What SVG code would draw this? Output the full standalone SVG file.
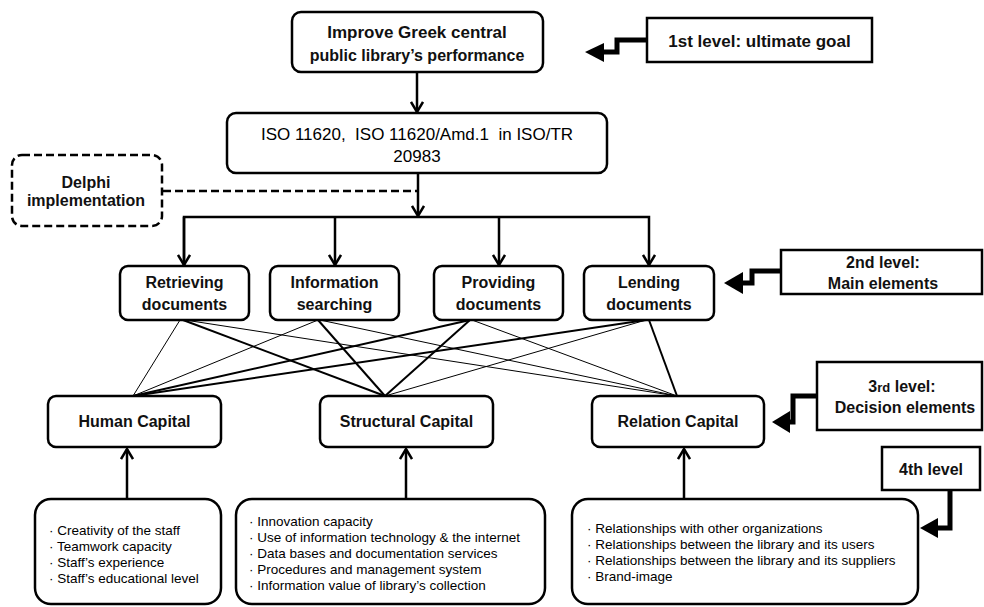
<svg xmlns="http://www.w3.org/2000/svg" width="984" height="607" viewBox="0 0 984 607">
<style>
.box{fill:#fff;stroke:#000;stroke-width:2.5}
.lbl{fill:#fff;stroke:#000;stroke-width:2.5}
.dash{fill:#fff;stroke:#000;stroke-width:2.5;stroke-dasharray:8 4}
.t{font-family:"Liberation Sans",Arial,sans-serif;font-size:16px;font-weight:bold;fill:#111;text-anchor:middle}
.r{font-family:"Liberation Sans",Arial,sans-serif;font-size:17px;fill:#000;text-anchor:middle;white-space:pre}
.b{font-family:"Liberation Sans",Arial,sans-serif;font-size:13.5px;fill:#000}
.arr{fill:none;stroke:#000;stroke-width:2.5;marker-end:url(#vee)}
.thick{stroke:#000;stroke-width:2;fill:none}
.thin{stroke:#000;stroke-width:1;fill:none}
.lvl{fill:none;stroke:#000;stroke-width:5}
</style>
<defs>
<marker id="vee" viewBox="0 0 12 14" refX="11" refY="7" markerWidth="12" markerHeight="14" markerUnits="userSpaceOnUse" orient="auto">
<path d="M1,1 L11,7 L1,13" fill="none" stroke="#000" stroke-width="2.5"/>
</marker>
</defs>

<g id="connectors">
<line class="arr" x1="417" y1="73" x2="417" y2="112"/>
<line class="arr" x1="418" y1="174" x2="418" y2="216"/>
<path d="M163,191 H418" fill="none" stroke="#000" stroke-width="2.5" stroke-dasharray="8 4"/>
<path d="M184,265 V217 H649 V265" fill="none" stroke="#000" stroke-width="2.5" marker-end="url(#vee)"/>
<line class="arr" x1="184" y1="217" x2="184" y2="265"/>
<line class="arr" x1="335" y1="217" x2="335" y2="265"/>
<line class="arr" x1="499" y1="217" x2="499" y2="265"/>
<!-- cross links -->
<line class="thin" x1="180" y1="320" x2="133" y2="396"/>
<line class="thick" x1="183" y1="320" x2="385" y2="396"/>
<line class="thin" x1="185" y1="320" x2="677" y2="396"/>
<line class="thin" x1="318" y1="320" x2="133" y2="396"/>
<line class="thick" x1="318" y1="320" x2="385" y2="396"/>
<line class="thin" x1="320" y1="320" x2="677" y2="396"/>
<line class="thick" x1="470" y1="320" x2="133" y2="396"/>
<line class="thick" x1="470" y1="320" x2="385" y2="396"/>
<line class="thin" x1="472" y1="320" x2="677" y2="396"/>
<line class="thick" x1="646" y1="320" x2="133" y2="396"/>
<line class="thin" x1="646" y1="320" x2="385" y2="396"/>
<line class="thick" x1="649" y1="320" x2="677" y2="396" stroke-width="1.6"/>
<!-- up arrows -->
<line class="arr" x1="127" y1="499" x2="127" y2="449"/>
<line class="arr" x1="406" y1="499" x2="406" y2="449"/>
<line class="arr" x1="684" y1="499" x2="684" y2="449"/>
<!-- level pointers -->
<path class="lvl" d="M647,40 H617 V52 H600"/>
<polygon points="585,52 604,43 604,62" fill="#000"/>
<path class="lvl" d="M781,271 H752 V283 H738"/>
<polygon points="724,283 743,272 743,294" fill="#000"/>
<path class="lvl" d="M817,396 H793 V422 H786"/>
<polygon points="772,422 790,411 790,433" fill="#000"/>
<path class="lvl" d="M950,490 V528 H935"/>
<polygon points="920,528 938,518 938,538" fill="#000"/>
</g>

<g id="goal">
<rect class="box" x="292" y="12" width="251" height="60" rx="9"/>
<text class="t" x="417" y="38" style="font-size:17px">Improve Greek central</text>
<text class="t" x="417" y="61">public library’s performance</text>
</g>

<g id="iso">
<rect class="box" x="227" y="113" width="380" height="60" rx="9"/>
<text class="r" x="417" y="140">ISO 11620,  ISO 11620/Amd.1  in ISO/TR</text>
<text class="r" x="417" y="162">20983</text>
</g>

<g id="delphi">
<rect class="dash" x="12" y="155" width="150" height="71" rx="10"/>
<text class="t" x="86" y="188">Delphi</text>
<text class="t" x="86" y="206">implementation</text>
</g>

<g id="retrieving">
<rect class="box" x="120" y="266" width="129" height="54" rx="8"/>
<text class="t" x="184.5" y="288">Retrieving</text>
<text class="t" x="184.5" y="310">documents</text>
</g>
<g id="information">
<rect class="box" x="270" y="266" width="129" height="54" rx="8"/>
<text class="t" x="334.5" y="288">Information</text>
<text class="t" x="334.5" y="310">searching</text>
</g>
<g id="providing">
<rect class="box" x="434" y="266" width="129" height="54" rx="8"/>
<text class="t" x="498.5" y="288">Providing</text>
<text class="t" x="498.5" y="310">documents</text>
</g>
<g id="lending">
<rect class="box" x="584" y="266" width="130" height="54" rx="8"/>
<text class="t" x="649" y="288">Lending</text>
<text class="t" x="649" y="310">documents</text>
</g>

<g id="human">
<rect class="box" x="48" y="396" width="173" height="51" rx="8"/>
<text class="t" x="134.5" y="427">Human Capital</text>
</g>
<g id="structural">
<rect class="box" x="320" y="396" width="173" height="51" rx="8"/>
<text class="t" x="406.5" y="427">Structural Capital</text>
</g>
<g id="relation">
<rect class="box" x="592" y="396" width="172" height="51" rx="8"/>
<text class="t" x="678" y="427">Relation Capital</text>
</g>

<g id="human-details">
<rect class="box" x="35" y="499" width="186" height="105" rx="16"/>
<text class="b" x="49" y="535">· Creativity of the staff</text>
<text class="b" x="49" y="551">· Teamwork capacity</text>
<text class="b" x="49" y="567">· Staff’s experience</text>
<text class="b" x="49" y="583">· Staff’s educational level</text>
</g>
<g id="structural-details">
<rect class="box" x="236" y="499" width="309" height="105" rx="16"/>
<text class="b" x="249" y="526">· Innovation capacity</text>
<text class="b" x="249" y="542">· Use of information technology &amp; the internet</text>
<text class="b" x="249" y="558">· Data bases and documentation services</text>
<text class="b" x="249" y="574">· Procedures and management system</text>
<text class="b" x="249" y="590">· Information value of library’s collection</text>
</g>
<g id="relation-details">
<rect class="box" x="572" y="499" width="346" height="105" rx="16"/>
<text class="b" x="587" y="533">· Relationships with other organizations</text>
<text class="b" x="587" y="549">· Relationships between the library and its users</text>
<text class="b" x="587" y="565">· Relationships between the library and its suppliers</text>
<text class="b" x="587" y="581">· Brand-image</text>
</g>

<g id="level1">
<rect class="lbl" x="647" y="18" width="225" height="44"/>
<text class="t" x="759.5" y="47" style="font-size:17px">1st level: ultimate goal</text>
</g>
<g id="level2">
<rect class="lbl" x="781" y="250" width="201" height="44"/>
<text class="t" x="883" y="268">2nd level:</text>
<text class="t" x="883" y="289">Main elements</text>
</g>
<g id="level3">
<rect class="lbl" x="817" y="362" width="165" height="68"/>
<text class="t" x="902" y="392">3<tspan font-size="13">rd</tspan> level:</text>
<text class="t" x="905" y="413">Decision elements</text>
</g>
<g id="level4">
<rect class="lbl" x="882" y="447" width="98" height="43"/>
<text class="t" x="931" y="475">4th level</text>
</g>
</svg>
